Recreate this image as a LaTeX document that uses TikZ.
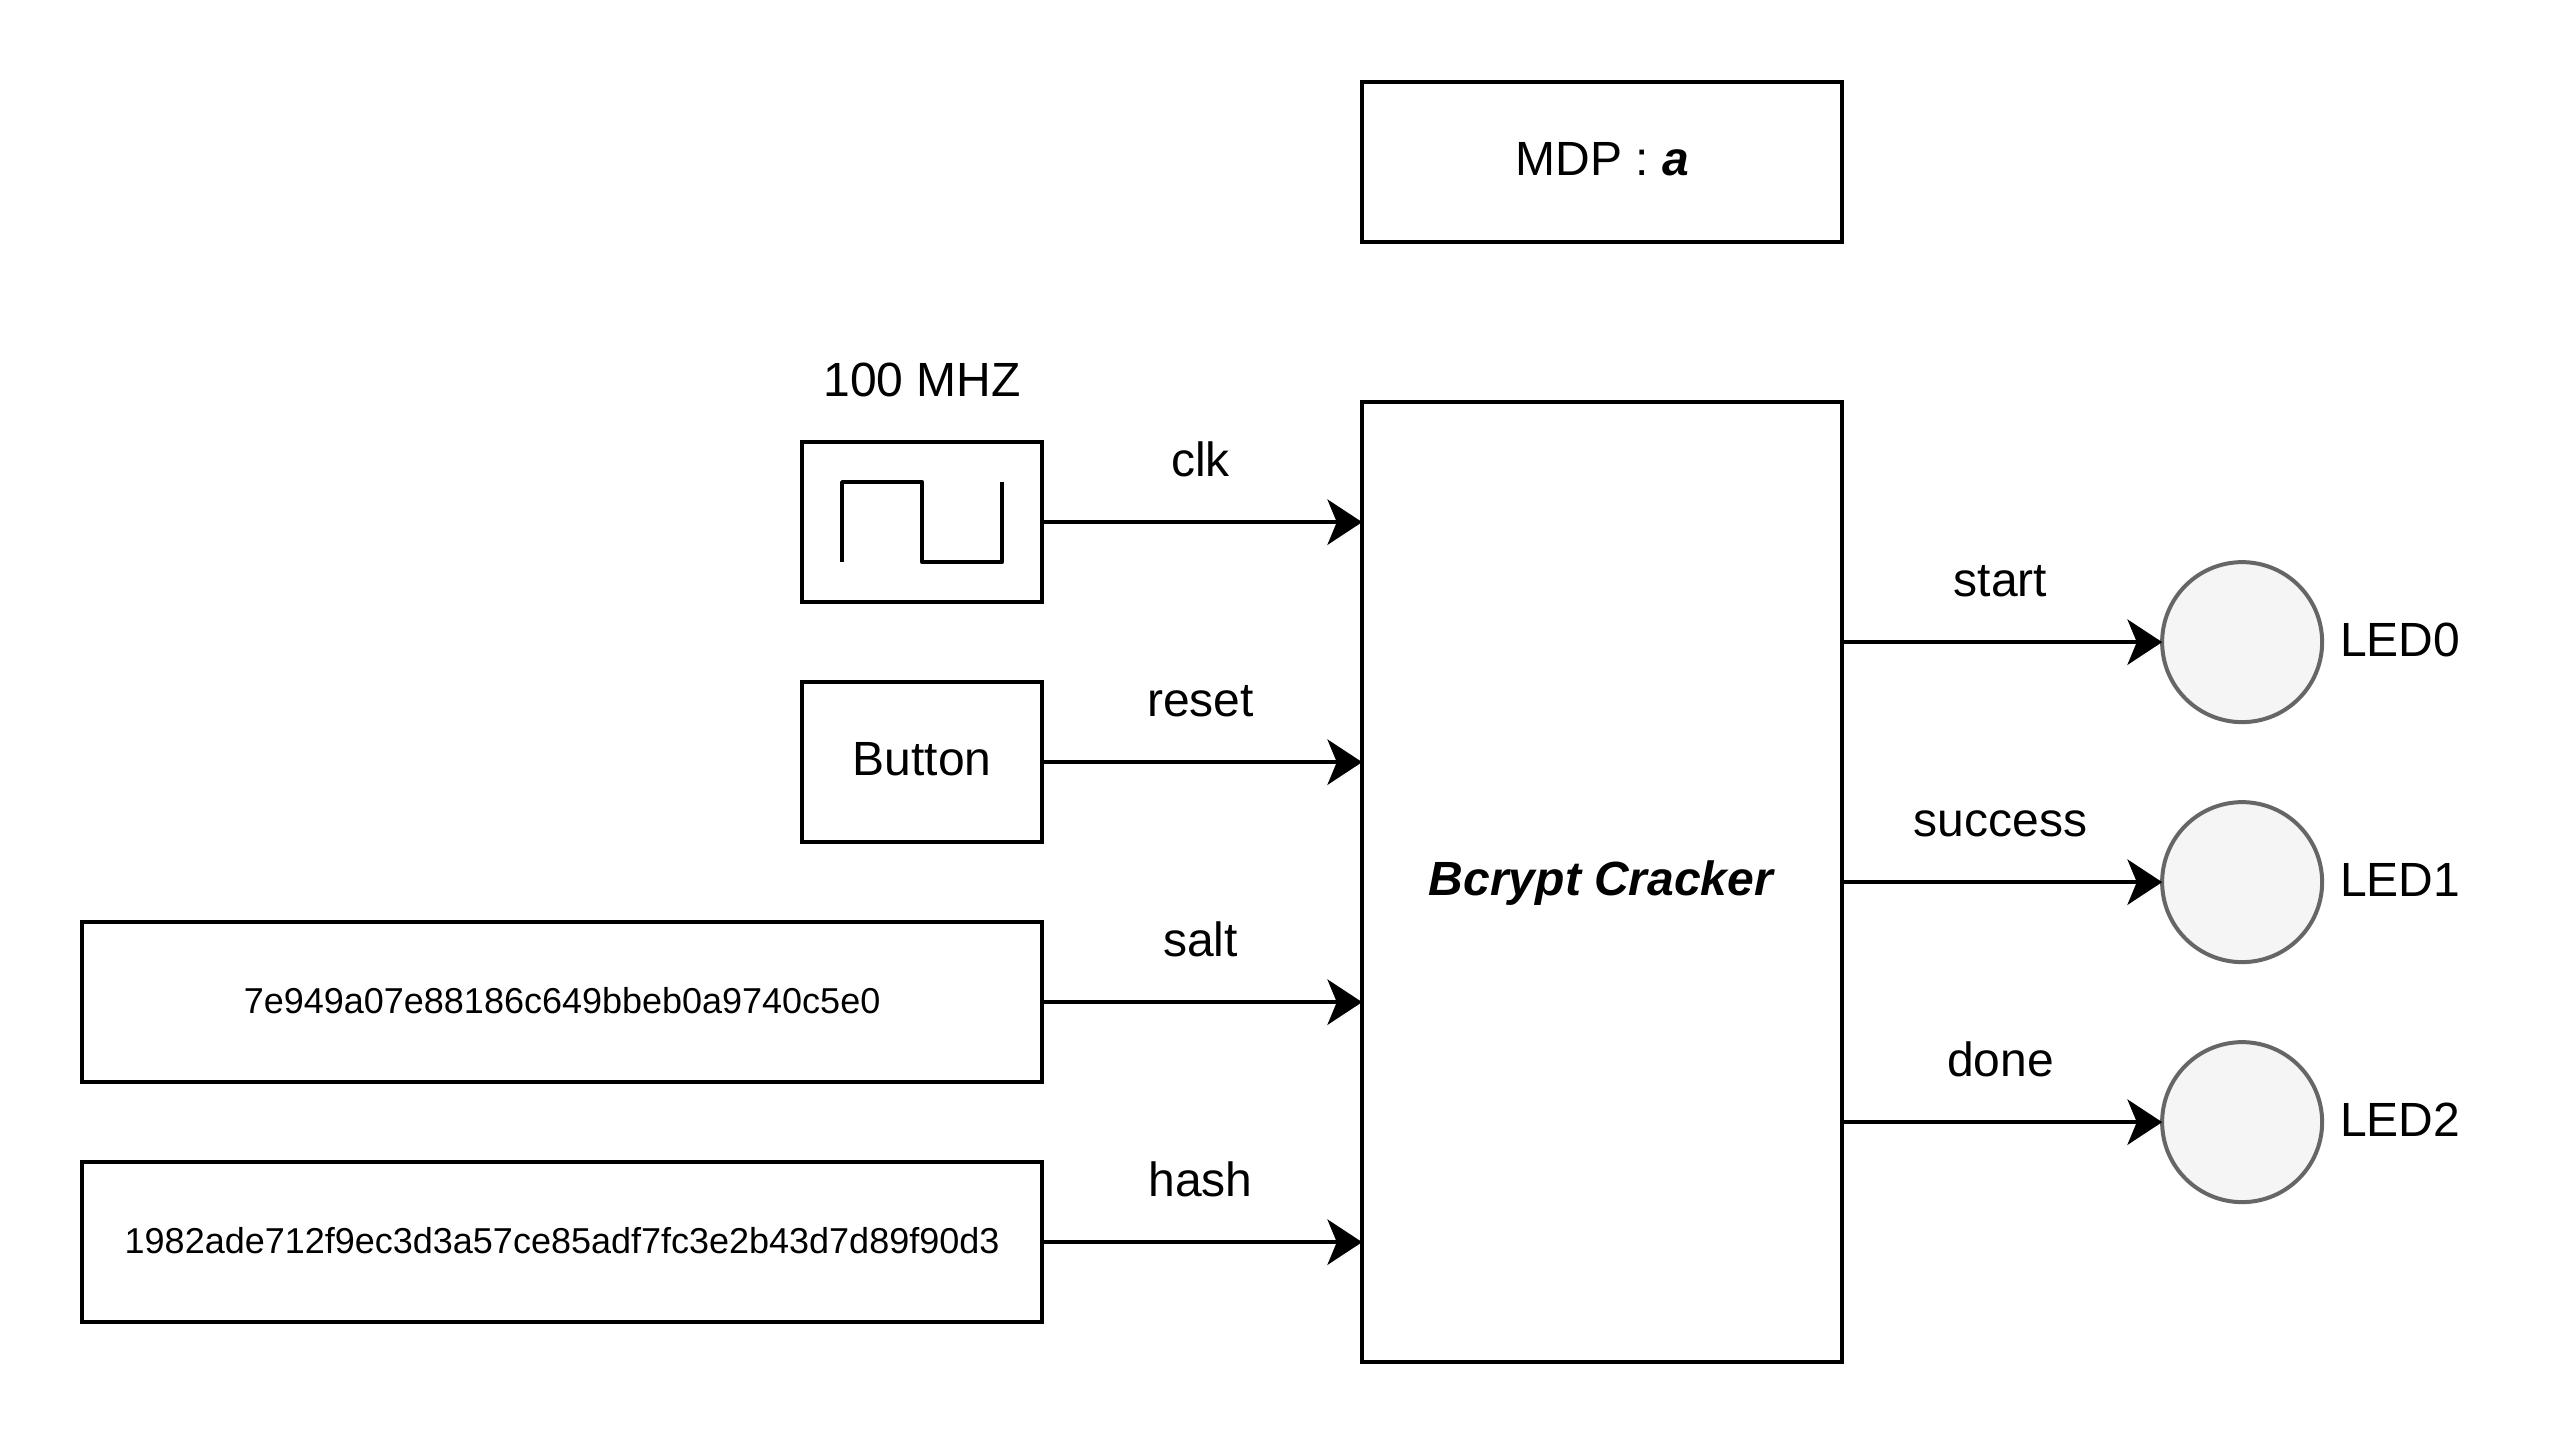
\documentclass[tikz,border=0pt]{standalone}
\usepackage{fontspec}
\setmainfont{Liberation Sans}
\usetikzlibrary{arrows.meta}
\tikzset{
    block/.style={draw, line width=1.5pt, outer sep=0pt, inner sep=0pt, fill=white, text height=13pt, text depth=3pt},
    small/.style={font=\fontsize{13.5}{16}\selectfont, text height=10pt, text depth=1.2pt},
    led/.style={circle, draw=black!60, fill=black!4, line width=1.5pt, outer sep=0pt, inner sep=0pt, minimum size=60pt},
    wire/.style={line width=1.5pt, -{Stealth[length=13pt,width=17pt,inset=3.5pt]}},
    lbl/.style={font=\fontsize{18}{20}\selectfont}
}
\begin{document}
\begin{tikzpicture}[x=1pt,y=-1pt,lbl]
        \useasboundingbox (0,0) rectangle (961.5,543);
        % Main block and password
        \node[block, minimum width=180pt, minimum height=60pt] (mdp) at (600.8,60.8)
            {MDP : \textbf{\textit{a}}};
        \node[block, minimum width=180pt, minimum height=360pt] (cracker) at (600.8,330.8)
            {\textbf{\textit{Bcrypt Cracker}}};
        % Inputs
        \node[block, minimum width=90pt, minimum height=60pt] (clock) at (345.8,195.8) {};
        \node[anchor=base] (freq) at (345.8,148.7) {100 MHZ};
        \node[block, minimum width=90pt, minimum height=60pt] (button) at (345.8,285.8) {Button};
        \node[block, small, minimum width=360pt, minimum height=60pt] (salt) at (210.8,375.8)
            {7e949a07e88186c649bbeb0a9740c5e0};
        \node[block, small, minimum width=360pt, minimum height=60pt] (hash) at (210.8,465.8)
            {1982ade712f9ec3d3a57ce85adf7fc3e2b43d7d89f90d3};
        \draw[line width=1.5pt, line join=round] (315.8,210.8) -- (315.8,180.8) -- (345.8,180.8)
            -- (345.8,210.8) -- (375.8,210.8) -- (375.8,180.8);
        \foreach \src/\label in {
            clock/clk,
            button/reset,
            salt/salt,
            hash/hash
        } {
            \draw[wire] (\src.east |- \src.center) -- (\src.center -| cracker.west)
                coordinate[pos=0.5] (\src mid);
            \node[anchor=base] (\src lbl) at ([xshift=-0.6pt,yshift=17pt]\src mid) {\label};
        }
        % Outputs
        \foreach \y/\name/\label in {
            240.8/0/start,
            330.8/1/success,
            420.8/2/done
        } {
            \node[led] (led\name) at (840.8,\y) {};
            \node[anchor=west, inner xsep=0pt] (ledname\name) at ([xshift=6.5pt,yshift=0.9pt]led\name.east) {LED\name};
            \draw[wire] (led\name.center -| cracker.east) -- (led\name.west)
                coordinate[pos=0.5] (led\name mid);
            \node[anchor=base] (led\name lbl) at ([xshift=-0.6pt,yshift=17pt]led\name mid) {\label};
        }
    \end{tikzpicture}
\end{document}
